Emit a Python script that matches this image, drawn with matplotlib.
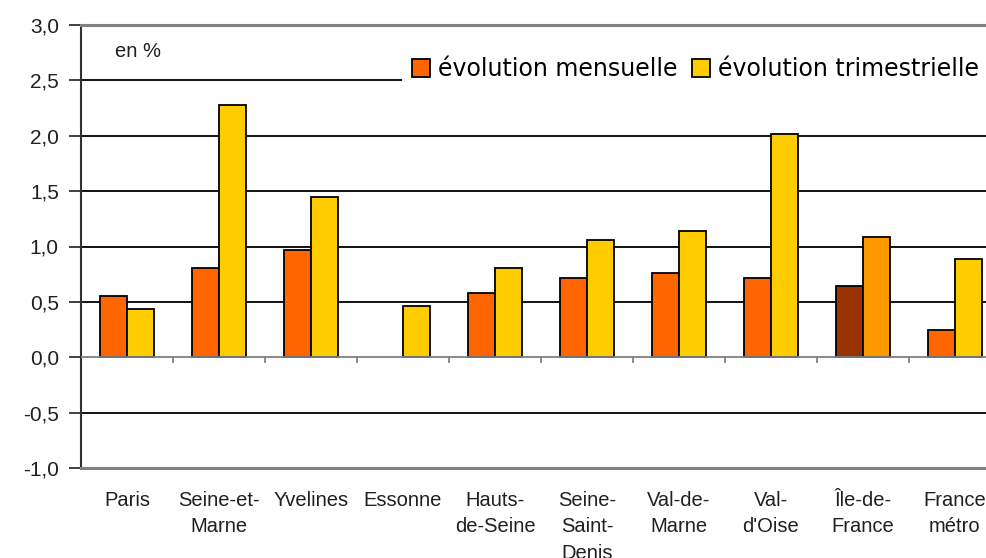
import matplotlib
matplotlib.use('Agg')
import matplotlib.pyplot as plt
import numpy as np
from matplotlib.patches import Patch, Rectangle
from matplotlib.ticker import FuncFormatter

categories = ['Paris', 'Seine-et-\nMarne', 'Yvelines', 'Essonne', 'Hauts-\nde-Seine',
              'Seine-\nSaint-\nDenis', 'Val-de-\nMarne', "Val-\nd'Oise", 'Île-de-\nFrance',
              'France\nmétro']
mensuelle = [0.55, 0.81, 0.97, np.nan, 0.58, 0.72, 0.76, 0.72, 0.64, 0.25]
trimestrielle = [0.44, 2.28, 1.45, 0.46, 0.81, 1.06, 1.14, 2.02, 1.09, 0.89]
yticks = [-1.0, -0.5, 0.0, 0.5, 1.0, 1.5, 2.0, 2.5, 3.0]

col_m, col_t = '#FF6600', '#FFCC00'
col_m_idf, col_t_idf = '#993300', '#FF9900'

plt.rcParams['font.family'] = ['Liberation Sans', 'DejaVu Sans']

fig = plt.figure(figsize=(9.86, 5.58), dpi=100)
ax = fig.add_axes([81 / 986, 1 - 468 / 558, (986 - 81) / 986, 443 / 558])

x = np.arange(len(categories))
w = 0.29
colors_m = [col_m_idf if c.startswith('Île') else col_m for c in categories]
colors_t = [col_t_idf if c.startswith('Île') else col_t for c in categories]
ax.bar(x - w / 2, mensuelle, w, color=colors_m, edgecolor='black', linewidth=1.3, zorder=3)
ax.bar(x + w / 2, trimestrielle, w, color=colors_t, edgecolor='black', linewidth=1.3, zorder=3)

ax.set_ylim(-1.0, 3.0)
ax.set_xlim(-0.5, 9.337)

# grid lines
for v in [-0.5, 0.5, 1.0, 1.5, 2.0, 2.5]:
    ax.axhline(v, color='black', linewidth=1.3, zorder=1)
ax.axhline(0, color='#808080', linewidth=1.3, zorder=4)
ax.axhline(3.0, color='#808080', linewidth=2.2, zorder=4, clip_on=False)
ax.axhline(-1.0, color='#808080', linewidth=2.2, zorder=4, clip_on=False)
# small ticks on the zero line between categories
for b in x[:-1] + 0.5:
    ax.plot([b, b], [0, -0.045], color='#808080', linewidth=1.3, zorder=4)

for s in ['top', 'right', 'bottom']:
    ax.spines[s].set_visible(False)
ax.spines['left'].set_color('#303030')
ax.spines['left'].set_linewidth(1.5)

ax.set_yticks(yticks)
ax.yaxis.set_major_formatter(FuncFormatter(lambda v, p: f'{v:.1f}'.replace('.', ',')))
ax.tick_params(axis='y', length=9, width=1.3, color='#303030', labelsize=15, pad=7,
               labelcolor='#202020')
ax.set_xticks([])

for i, c in enumerate(categories):
    ax.text(i, -1.21, c, ha='center', va='top', fontsize=14.5, linespacing=1.48,
            color='#202020')

ax.text(0.038, 0.94, 'en %', transform=ax.transAxes, fontsize=14.5, ha='left', va='center',
        color='#202020')

# white box under the legend
ax.add_patch(Rectangle((0.355, 0.84), 0.7, 0.12, transform=ax.transAxes, facecolor='white',
                       edgecolor='none', zorder=2))
handles = [Patch(facecolor=col_m, edgecolor='black', linewidth=1.3),
           Patch(facecolor=col_t, edgecolor='black', linewidth=1.3)]
leg = ax.legend(handles, ['évolution mensuelle', 'évolution trimestrielle'], ncol=2,
                loc='center left', bbox_to_anchor=(0.366, 0.90), frameon=False,
                handlelength=0.76, handleheight=0.76, handletextpad=0.34, columnspacing=0.6,
                borderaxespad=0, borderpad=0,
                prop={'family': 'DejaVu Sans', 'size': 17})
leg.set_zorder(5)

fig.savefig('out.png', dpi=100)
